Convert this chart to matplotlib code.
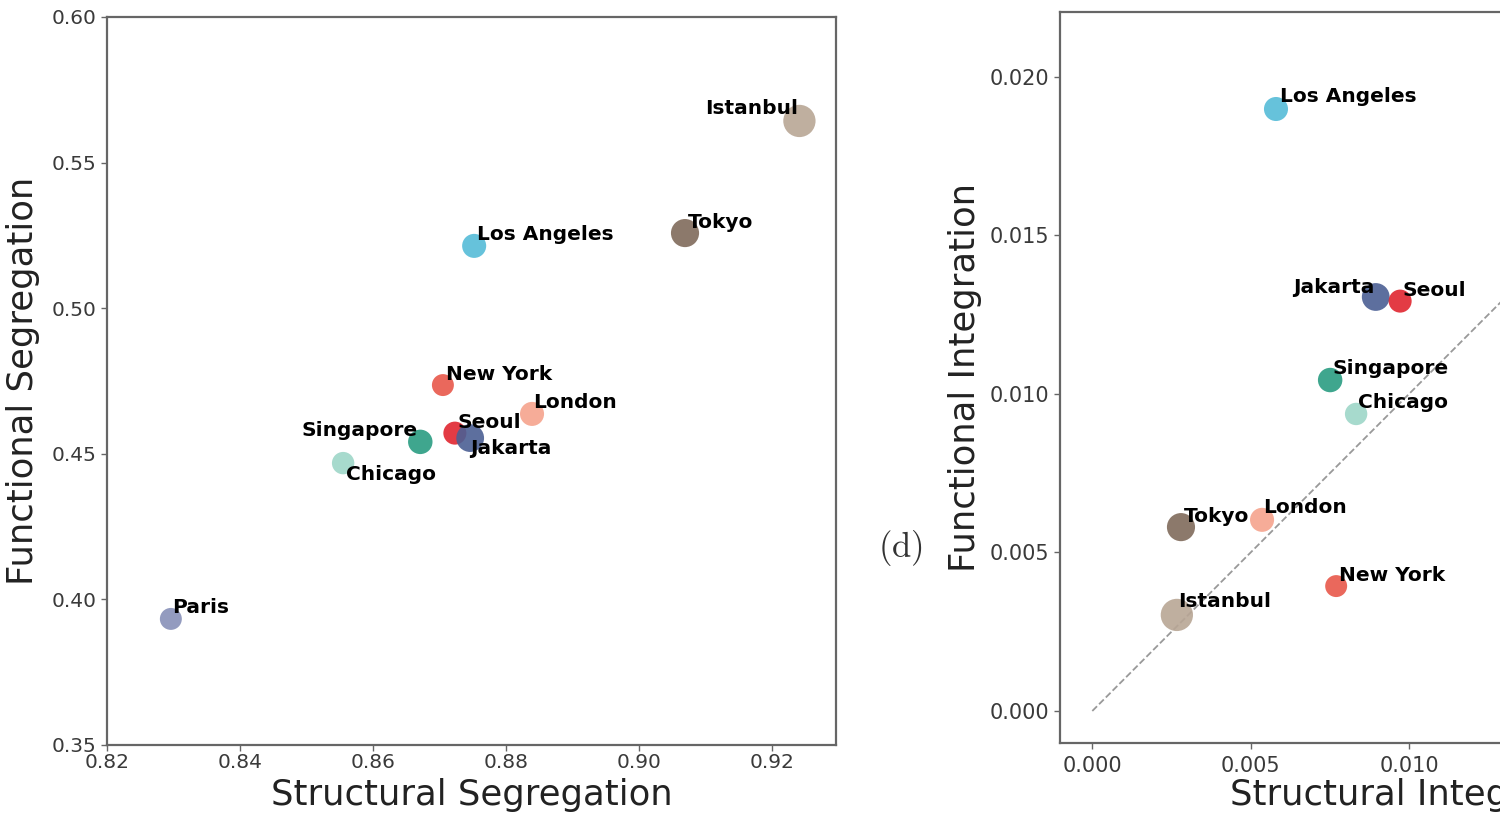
import numpy as np
import matplotlib
matplotlib.use('Agg')
import matplotlib.pyplot as plt

# City data
cities = ['Paris', 'Chicago', 'Singapore', 'New York', 'London', 'Seoul',
          'Jakarta', 'Los Angeles', 'Tokyo', 'Istanbul']

struct_seg = [0.8296, 0.8555, 0.8671, 0.8705, 0.8839, 0.8723,
              0.8746, 0.8752, 0.9069, 0.9241]
func_seg = [0.3933, 0.4468, 0.4541, 0.4736, 0.4637, 0.4571,
            0.4554, 0.5214, 0.5258, 0.5643]

# Paris sits outside the visible part of the right panel
struct_int = [0.0140, 0.00833, 0.00751, 0.00770, 0.00536, 0.00972,
              0.00895, 0.00580, 0.00280, 0.00267]
func_int = [0.0150, 0.00937, 0.01044, 0.00394, 0.00603, 0.01293,
            0.01306, 0.01899, 0.00580, 0.00303]

# colours and marker areas per city
colors = {'Paris': '#8790b8', 'Chicago': '#9ed6c8', 'Singapore': '#2a9d82',
          'New York': '#e8584a', 'London': '#f5a38d', 'Seoul': '#e0262f',
          'Jakarta': '#4b5f94', 'Los Angeles': '#55bcd8', 'Tokyo': '#806b5b',
          'Istanbul': '#b8a695'}
sizes = {'Paris': 250, 'Chicago': 260, 'Singapore': 310, 'New York': 250,
         'London': 300, 'Seoul': 275, 'Jakarta': 400, 'Los Angeles': 300,
         'Tokyo': 410, 'Istanbul': 540}

# label placement (ha, va, dx, dy in points)
lab_left = {'Paris': ('left', 'baseline', 1, 4), 'Chicago': ('left', 'top', 2, -1),
            'Singapore': ('right', 'baseline', -2, 4), 'New York': ('left', 'baseline', 2, 4),
            'London': ('left', 'baseline', 1, 4), 'Seoul': ('left', 'baseline', 2, 4),
            'Jakarta': ('left', 'top', 0, -1), 'Los Angeles': ('left', 'baseline', 2, 4),
            'Tokyo': ('left', 'baseline', 2, 4), 'Istanbul': ('right', 'baseline', -1, 5)}
lab_right = {'Paris': ('left', 'baseline', 2, 4), 'Chicago': ('left', 'baseline', 1, 4),
             'Singapore': ('left', 'baseline', 2, 4), 'New York': ('left', 'baseline', 2, 4),
             'London': ('left', 'baseline', 1, 5), 'Seoul': ('left', 'baseline', 2, 4),
             'Jakarta': ('right', 'baseline', -1, 3), 'Los Angeles': ('left', 'baseline', 3, 5),
             'Tokyo': ('left', 'baseline', 2, 4), 'Istanbul': ('left', 'baseline', 1, 6)}

plt.rcParams['font.family'] = 'DejaVu Sans'
plt.rcParams['mathtext.fontset'] = 'cm'

fig = plt.figure(figsize=(15, 8.18), dpi=100)
W, H = 1500.0, 818.0


def style_axes(ax, tick_size):
    for sp in ax.spines.values():
        sp.set_color('#666666')
        sp.set_linewidth(1.6)
    ax.tick_params(direction='out', length=4, width=1, colors='#666666',
                   labelsize=tick_size, labelcolor='#3a3a3a')


# Left panel: segregation
ax1 = fig.add_axes([107 / W, (H - 745) / H, (836 - 107) / W, (745 - 17) / H])
for i, c in enumerate(cities):
    ax1.scatter(struct_seg[i], func_seg[i], s=sizes[c], color=colors[c],
                alpha=0.9, edgecolors='none', zorder=3)
    ha, va, dx, dy = lab_left[c]
    ax1.annotate(c, (struct_seg[i], func_seg[i]), xytext=(dx, dy),
                 textcoords='offset points', ha=ha, va=va,
                 fontsize=14.5, fontweight='bold', color='black', zorder=4)
ax1.set_xlim(0.82, 0.9296)
ax1.set_ylim(0.35, 0.60)
ax1.set_xticks([0.82, 0.84, 0.86, 0.88, 0.90, 0.92])
ax1.set_yticks([0.35, 0.40, 0.45, 0.50, 0.55, 0.60])
ax1.xaxis.set_major_formatter(matplotlib.ticker.FormatStrFormatter('%.2f'))
ax1.yaxis.set_major_formatter(matplotlib.ticker.FormatStrFormatter('%.2f'))
style_axes(ax1, 14.5)
ax1.tick_params(axis='x', pad=2)
ax1.set_xlabel('Structural Segregation', fontsize=25.5, color='#222222', labelpad=4)
ax1.set_ylabel('Functional Segregation', fontsize=25.5, color='#222222', labelpad=8)

# Right panel: integration (cut off at the right edge of the picture)
ax2 = fig.add_axes([1060 / W, (H - 743) / H, (1782 - 1060) / W, (743 - 12) / H])
ax2.plot([0, 0.022], [0, 0.022], linestyle='--', color='#999999', linewidth=1.3, zorder=1)
for i, c in enumerate(cities):
    if c == 'Paris':
        continue
    ax2.scatter(struct_int[i], func_int[i], s=sizes[c], color=colors[c],
                alpha=0.9, edgecolors='none', zorder=5 if c == 'Seoul' else 3)
    ha, va, dx, dy = lab_right[c]
    ax2.annotate(c, (struct_int[i], func_int[i]), xytext=(dx, dy),
                 textcoords='offset points', ha=ha, va=va,
                 fontsize=14.5, fontweight='bold', color='black', zorder=6)
ax2.set_xlim(-0.00102, -0.00102 + 722 / 31670)
ax2.set_ylim(-0.00101, 0.02205)
ax2.set_xticks([0.0, 0.005, 0.010, 0.015, 0.020])
ax2.set_yticks([0.0, 0.005, 0.010, 0.015, 0.020])
ax2.xaxis.set_major_formatter(matplotlib.ticker.FormatStrFormatter('%.3f'))
ax2.yaxis.set_major_formatter(matplotlib.ticker.FormatStrFormatter('%.3f'))
style_axes(ax2, 15)
ax2.tick_params(axis='x', pad=5)
ax2.set_xlabel('Structural Integration', fontsize=25.5, color='#222222', labelpad=2)
ax2.set_ylabel('Functional Integration', fontsize=25.5, color='#222222', labelpad=6)

fig.text(900 / W, 1 - 548 / H, r'$\mathrm{(d)}$', fontsize=25, color='#333333',
         ha='center', va='center')

fig.savefig('out.png', dpi=100, facecolor='white')
